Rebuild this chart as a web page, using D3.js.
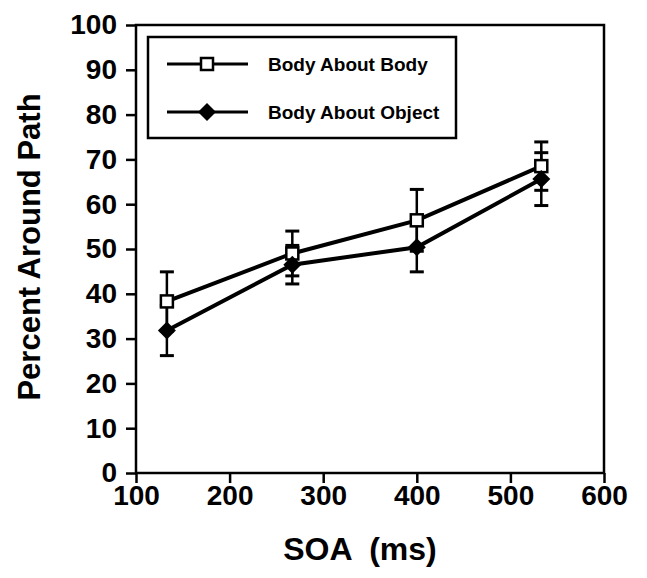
<!DOCTYPE html>
<html><head><meta charset="utf-8">
<script src="https://cdn.jsdelivr.net/npm/d3@7"></script>
<style>body{margin:0;background:#fff}svg{display:block}text{font-family:"Liberation Sans",Arial,sans-serif;font-weight:bold;fill:#000}</style>
</head><body><svg id="c" width="647" height="578"></svg>
<script>
const soa = [133, 267, 400, 533];
const bodyAboutBody = [38.3, 49, 56.4, 68.5];
const bodyAboutBodyErr = [6.6, 5, 6.9, 5.4];
const bodyAboutObject = [31.8, 46.5, 50.4, 65.6];
const bodyAboutObjectErr = [5.6, 4.3, 5.5, 5.9];
const xTicks = [100, 200, 300, 400, 500, 600];
const yTicks = [0, 10, 20, 30, 40, 50, 60, 70, 80, 90, 100];
const seriesNames = ["Body About Body", "Body About Object"];

const svg = d3.select("#c");
const L = 136, R = 604, T = 25, B = 473;
const x = d3.scaleLinear().domain([100, 600]).range([L, R]);
const y = d3.scaleLinear().domain([0, 100]).range([B, T]);

svg.append("rect").attr("x", L).attr("y", T).attr("width", R - L).attr("height", B - T)
  .attr("fill", "none").attr("stroke", "#000").attr("stroke-width", 2.5);

const yAxis = svg.append("g").attr("transform", `translate(${L},0)`)
  .call(d3.axisLeft(y).tickValues(yTicks).tickSize(10).tickPadding(9));
const xAxis = svg.append("g").attr("transform", `translate(0,${B})`)
  .call(d3.axisBottom(x).tickValues(xTicks).tickSize(10).tickPadding(2));
[yAxis, xAxis].forEach(a => {
  a.select(".domain").remove();
  a.selectAll(".tick line").attr("stroke", "#000").attr("stroke-width", 2.5);
  a.selectAll(".tick text").attr("font-size", 28).attr("font-family", '"Liberation Sans",Arial,sans-serif').attr("font-weight", "bold").attr("fill", "#000");
});

svg.append("text").attr("x", 360).attr("y", 560).attr("text-anchor", "middle")
  .attr("font-size", 32).attr("xml:space", "preserve").text("SOA  (ms)");
svg.append("text").attr("transform", "translate(40,247) rotate(-90)").attr("text-anchor", "middle")
  .attr("font-size", 31).text("Percent Around Path");

const line = d3.line().x((d, i) => x(soa[i])).y(d => y(d));
const series = [
  {v: bodyAboutBody, e: bodyAboutBodyErr, type: "square"},
  {v: bodyAboutObject, e: bodyAboutObjectErr, type: "diamond"}
];
series.forEach(s => {
  const g = svg.append("g");
  s.v.forEach((v, i) => {
    const cx = x(soa[i]);
    g.append("line").attr("x1", cx).attr("x2", cx).attr("y1", y(v - s.e[i])).attr("y2", y(v + s.e[i]))
      .attr("stroke", "#000").attr("stroke-width", 2.5);
    [v - s.e[i], v + s.e[i]].forEach(ev => {
      g.append("line").attr("x1", cx - 7).attr("x2", cx + 7).attr("y1", y(ev)).attr("y2", y(ev))
        .attr("stroke", "#000").attr("stroke-width", 3);
    });
  });
});
series.forEach(s => {
  svg.append("path").attr("d", line(s.v)).attr("fill", "none").attr("stroke", "#000").attr("stroke-width", 4);
});
function marker(g, type, cx, cy) {
  if (type === "square") {
    g.append("rect").attr("x", cx - 6).attr("y", cy - 6).attr("width", 12).attr("height", 12)
      .attr("fill", "#fff").attr("stroke", "#000").attr("stroke-width", 2.5);
  } else {
    g.append("path").attr("d", `M${cx},${cy - 9}L${cx + 9},${cy}L${cx},${cy + 9}L${cx - 9},${cy}Z`).attr("fill", "#000");
  }
}
series.forEach(s => {
  const g = svg.append("g");
  s.v.forEach((v, i) => marker(g, s.type, x(soa[i]), y(v)));
});

const lg = svg.append("g");
lg.append("rect").attr("x", 148).attr("y", 37).attr("width", 308).attr("height", 101)
  .attr("fill", "#fff").attr("stroke", "#000").attr("stroke-width", 2.5);
series.forEach((s, i) => {
  const ly = 64 + i * 48;
  lg.append("line").attr("x1", 167).attr("x2", 248).attr("y1", ly).attr("y2", ly).attr("stroke", "#000").attr("stroke-width", 3);
  marker(lg, s.type, 207, ly);
  lg.append("text").attr("x", 268).attr("y", ly + 7).attr("font-size", 19).text(seriesNames[i]);
});
</script></body></html>
